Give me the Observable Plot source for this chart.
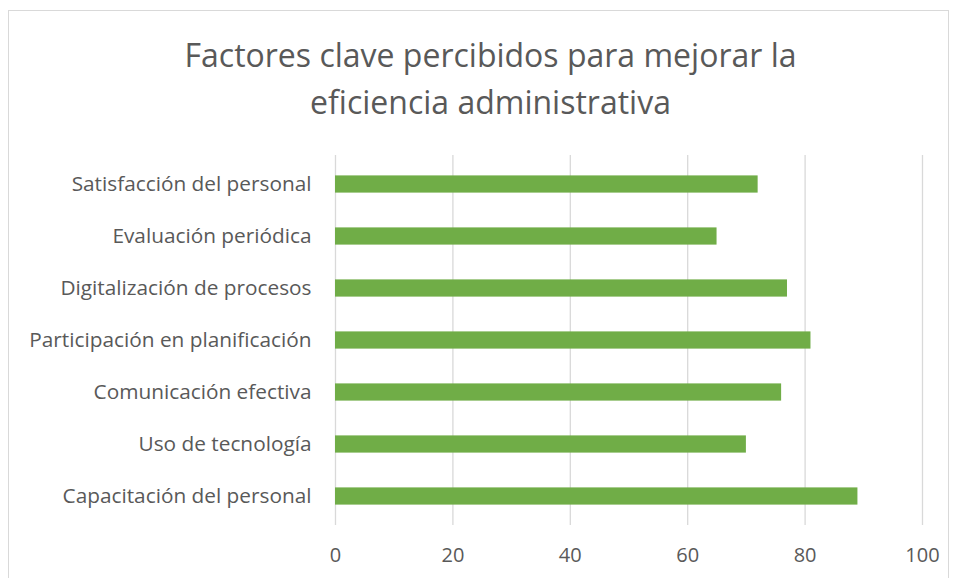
<!DOCTYPE html>
<html>
<head>
<meta charset="utf-8">
<script src="https://cdn.jsdelivr.net/npm/d3@7"></script>
<script src="https://cdn.jsdelivr.net/npm/@observablehq/plot@0.6"></script>
<style>
  body { margin: 0; background: #fff; }
  #wrap { position: relative; width: 955px; height: 578px; overflow: hidden; font-family: "Open Sans", sans-serif; }
  #frame { position: absolute; left: 8px; top: 10px; width: 941px; height: 600px; border: 1px solid #d9d9d9; box-sizing: border-box; }
  #title { position: absolute; left: 20px; width: 941px; top: 31px; text-align: center; font-size: 32px; line-height: 47px; color: #595959; }
  #chart { position: absolute; left: 0; top: 140px; }
</style>
</head>
<body>
<div id="wrap">
  <div id="frame"></div>
  <div id="title">Factores clave percibidos para mejorar la<br>eficiencia administrativa</div>
  <div id="chart"></div>
</div>
<script>
const categories = [
  "Satisfacción del personal",
  "Evaluación periódica",
  "Digitalización de procesos",
  "Participación en planificación",
  "Comunicación efectiva",
  "Uso de tecnología",
  "Capacitación del personal"
];
const values = [72, 65, 77, 81, 76, 70, 89];
const xTicks = [0, 20, 40, 60, 80, 100];

const data = categories.map((c, i) => ({category: c, value: values[i]}));

const chart = Plot.plot({
  width: 955,
  height: 438,
  marginLeft: 335,
  marginRight: 33,
  marginTop: 15,
  marginBottom: 53,
  style: {fontFamily: "'Open Sans', sans-serif", background: "transparent"},
  x: {domain: [0, 100], ticks: xTicks},
  y: {domain: categories, padding: 0},
  marks: [
    Plot.ruleX(xTicks, {stroke: "#d9d9d9", strokeWidth: 1.3}),
    Plot.barX(data, {x: "value", y: "category", fill: "#70ad47", insetTop: 17.4, insetBottom: 17.4}),
    Plot.axisX({ticks: xTicks, tickSize: 0, tickPadding: 22, fontSize: 20, fill: "#595959", label: null}),
    Plot.axisY({tickSize: 0, tickPadding: 24, fontSize: 20.8, fill: "#595959", label: null})
  ]
});
document.getElementById("chart").appendChild(chart);
</script>
</body>
</html>
